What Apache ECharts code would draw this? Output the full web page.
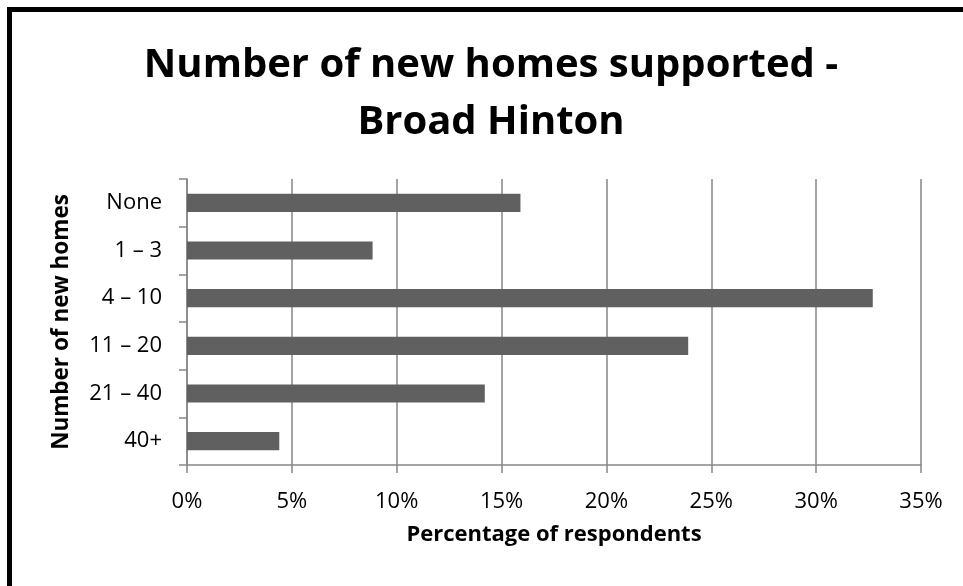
<!DOCTYPE html>
<html>
<head>
<meta charset="UTF-8">
<title>Number of new homes supported - Broad Hinton</title>
<style>
html,body{margin:0;padding:0;background:#fff;}
#main{width:963px;height:586px;}
</style>
</head>
<body>
<div id="main"></div>
<script src="https://cdn.jsdelivr.net/npm/echarts@6/dist/echarts.min.js"></script>
<script>
// categories top to bottom
var categories = ['None', '1 \u2013 3', '4 \u2013 10', '11 \u2013 20', '21 \u2013 40', '40+'];
// percentage of respondents
var percents = [15.9, 8.85, 32.7, 23.9, 14.2, 4.4];
var xMax = 35;
var xStep = 5;

var chart = echarts.init(document.getElementById('main'));
var font = '"Open Sans", sans-serif';

chart.setOption({
    backgroundColor: '#fff',
    title: {
        text: 'Number of new homes supported -\nBroad Hinton',
        left: 486,
        textAlign: 'center',
        top: 32,
        textStyle: {
            fontFamily: font,
            fontSize: 40,
            fontWeight: 'bold',
            color: '#000',
            lineHeight: 57
        }
    },
    graphic: [{
        // frame (only top and left edges are visible)
        type: 'polyline',
        shape: { points: [[9.5, 586], [9.5, 9.5], [963, 9.5]] },
        style: { stroke: '#000', lineWidth: 5, fill: null }
    }],
    grid: { left: 187, right: 42, top: 179, bottom: 121 },
    xAxis: {
        type: 'value',
        min: 0,
        max: xMax,
        interval: xStep,
        name: 'Percentage of respondents',
        nameLocation: 'middle',
        nameGap: 59,
        nameTextStyle: { fontFamily: font, fontSize: 22, fontWeight: 'bold', color: '#000' },
        axisLine: { show: true, lineStyle: { color: '#868686', width: 1.5 } },
        axisTick: { show: true, length: 8, lineStyle: { color: '#868686', width: 1.5 } },
        axisLabel: { formatter: '{value}%', margin: 26, fontFamily: font, fontSize: 22, color: '#000' },
        splitLine: { show: true, lineStyle: { color: '#868686', width: 1.5 } }
    },
    yAxis: {
        type: 'category',
        data: categories,
        inverse: true,
        name: 'Number of new homes',
        nameLocation: 'middle',
        nameGap: 114,
        nameTextStyle: { fontFamily: font, fontSize: 22.5, fontWeight: 'bold', color: '#000' },
        axisLine: { show: true, lineStyle: { color: '#868686', width: 1.5 } },
        axisTick: { show: true, length: 8, lineStyle: { color: '#868686', width: 1.5 } },
        axisLabel: { margin: 25, fontFamily: font, fontSize: 22, color: '#000' },
        splitLine: { show: false }
    },
    series: [{
        type: 'bar',
        data: percents,
        barWidth: '38%',
        itemStyle: { color: '#606060' },
        silent: true
    }]
});
</script>
</body>
</html>
